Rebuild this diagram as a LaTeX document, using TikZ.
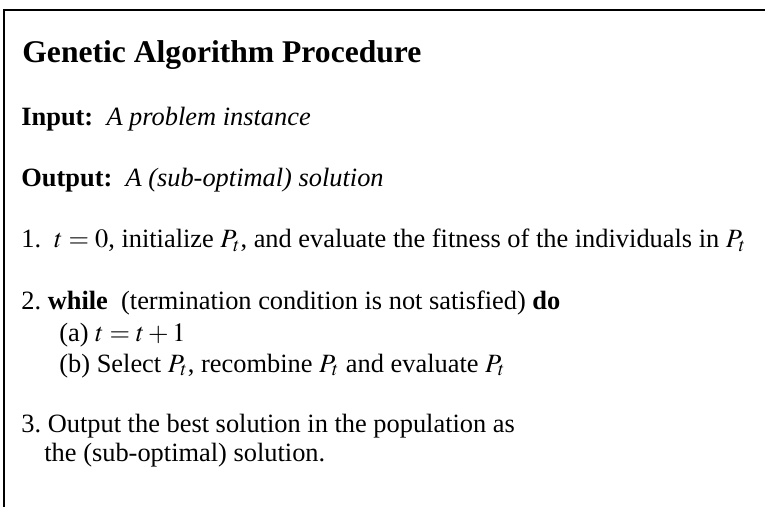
\documentclass[tikz,border=0pt]{standalone}
\usepackage{mathptmx}
\usepackage{fontspec}
\setmainfont{Liberation Serif}
\usetikzlibrary{positioning}

\begin{document}
\begin{tikzpicture}[x=0.5pt,y=-0.5pt,
	% Define a style for all text lines
	line text/.style={anchor=base west, inner sep=0pt, font=\fontsize{13.2}{15}\selectfont},
	title text/.style={anchor=base west, inner sep=0pt, font=\fontsize{15.8}{17}\selectfont\bfseries},
	frame line/.style={line width=1pt}
	]
	\useasboundingbox (0,0) rectangle (765,507);
	
	% Define and place the frame corners
	\coordinate (TR) at (765,10);
	\coordinate (TL) at (4,10);
	\coordinate (BL) at (4,507);
	
	% Define and place your nodes
	\node[title text] (title) at (22,63) {Genetic Algorithm Procedure};
	\node[line text] (input) at (21,126) {\textbf{Input:}\enspace\textit{A problem instance}};
	\node[line text] (output) at (21,187) {\textbf{Output:}\enspace\textit{A (sub-optimal) solution}};
	\node[line text] (step1) at (21,248) {1.\enspace$t=0$, initialize $P_t$, and evaluate the fitness of the individuals in $P_t$};
	\node[line text] (step2) at (21,310) {2.\ \textbf{while}\enspace(termination condition is not satisfied) \textbf{do}};
	\node[line text] (step2a) at (59,342) {(a) $t=t+1$};
	\node[line text] (step2b) at (59,372) {(b) Select $P_t$, recombine $P_t$ and evaluate $P_t$};
	\node[line text] (step3) at (21,432) {3.\ Output the best solution in the population as};
	\node[line text] (step3b) at (44,461) {the (sub-optimal) solution.};
	
	% --- Draw the frame ---
	\draw[frame line] (TR) -- (TL) -- (BL);
\end{tikzpicture}
\end{document}
